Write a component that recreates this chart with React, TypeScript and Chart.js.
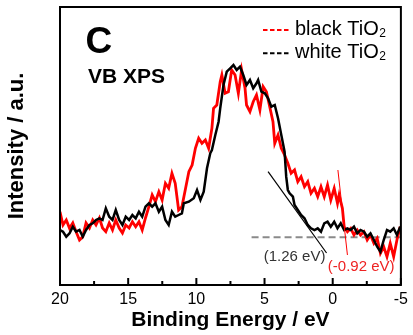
import React, { useEffect, useRef } from "react";
import { Chart, registerables } from "chart.js";

Chart.register(...registerables);

// ---- data (binding energy in eV, intensity in a.u.) ----
const blackTiO2E = [20.0, 19.78, 19.54, 19.30, 19.06, 18.82, 18.57, 18.33, 18.09, 17.84, 17.60, 17.36, 17.11, 16.88, 16.64, 16.39, 16.15, 15.91, 15.66, 15.42, 15.18, 14.93, 14.69, 14.45, 14.21, 13.97, 13.73, 13.48, 13.24, 13.00, 12.75, 12.51, 12.27, 12.03, 11.79, 11.55, 11.30, 11.06, 10.79, 10.55, 10.31, 10.07, 9.83, 9.59, 9.34, 9.10, 8.86, 8.74, 8.50, 8.25, 8.13, 7.89, 7.65, 7.41, 7.16, 6.92, 6.68, 6.43, 6.32, 6.07, 5.83, 5.59, 5.34, 5.10, 4.86, 4.62, 4.38, 4.25, 4.01, 3.77, 3.53, 3.29, 3.05, 2.80, 2.56, 2.32, 2.07, 1.83, 1.59, 1.34, 1.10, 0.86, 0.62, 0.38, 0.14, -0.11, -0.35, -0.47, -0.71, -0.84, -1.08, -1.32, -1.56, -1.80, -2.04, -2.29, -2.53, -2.77, -3.02, -3.26, -3.50, -3.74, -3.98, -4.22, -4.47, -4.71, -4.95];
const blackTiO2I = [73.3, 60, 65, 56.7, 62, 53.3, 45, 48.3, 62, 57, 65, 60, 67, 57, 53.3, 62, 55, 65, 57, 52, 60, 57, 63.3, 58.3, 63.3, 55, 67, 78.3, 90, 83.3, 93.3, 85, 101.7, 96.7, 111.7, 101.7, 75, 78.3, 96.7, 113.3, 120, 136.7, 146.7, 141.7, 145, 136.7, 156.7, 176.7, 180, 203.3, 210, 191.7, 193.3, 215, 210, 191.7, 215, 196.7, 180, 173.3, 183.3, 190, 175, 198.3, 193.3, 178.3, 163.3, 141.7, 150, 136.7, 130, 121.7, 111.7, 115, 103.3, 108.3, 98.3, 103.3, 91.7, 96.7, 88.3, 98.3, 88.3, 100, 85, 96.7, 81.7, 90, 76.7, 58.3, 53.3, 56.7, 50, 55, 50, 53.3, 45, 50, 41.7, 46.7, 31.7, 38.3, 28.3, 41.7, 28.3, 45, 58.3];

const whiteTiO2E = [20.0, 19.78, 19.54, 19.30, 19.06, 18.82, 18.57, 18.33, 18.09, 17.84, 17.60, 17.36, 17.11, 16.88, 16.64, 16.39, 16.15, 15.91, 15.66, 15.42, 15.18, 14.93, 14.69, 14.45, 14.21, 13.97, 13.73, 13.48, 13.24, 13.00, 12.75, 12.51, 12.27, 12.03, 11.79, 11.55, 11.30, 11.06, 10.92, 10.55, 10.19, 9.95, 9.70, 9.46, 9.22, 8.98, 8.86, 8.61, 8.37, 8.25, 8.01, 7.77, 7.52, 7.28, 7.04, 6.80, 6.56, 6.32, 6.07, 5.83, 5.59, 5.47, 5.23, 4.98, 4.74, 4.50, 4.25, 4.01, 3.77, 3.53, 3.41, 3.29, 3.16, 2.92, 2.80, 2.56, 2.32, 2.07, 1.83, 1.59, 1.34, 1.10, 0.86, 0.62, 0.38, 0.14, -0.11, -0.35, -0.59, -0.84, -1.08, -1.32, -1.56, -1.80, -2.04, -2.29, -2.53, -2.77, -3.02, -3.26, -3.50, -3.74, -3.98, -4.22, -4.47, -4.71, -4.95];
const whiteTiO2I = [55, 53.3, 48.3, 51.7, 58.3, 53.3, 55, 48.3, 55, 60, 61.7, 65, 66.7, 65, 76.7, 68.3, 65, 75, 65, 60, 68.3, 65, 70, 66.7, 73.3, 68.3, 78.3, 81.7, 78.3, 81.7, 73.3, 78.3, 65, 60, 73.3, 68.3, 70, 71.7, 81.7, 83.3, 86.7, 95, 85, 93.3, 116.7, 131.7, 135, 150, 163.3, 176.7, 200, 213.3, 216.7, 220, 215, 218.3, 210, 200, 205, 196.7, 201.7, 205, 193.3, 191.7, 186.7, 178.3, 180, 166.7, 150, 133.3, 108.3, 95, 91.7, 88.3, 80, 75, 70, 66.7, 60, 56.7, 55, 56.7, 53.3, 61.7, 63.3, 58.3, 63.3, 56.7, 61.7, 55, 56.7, 55, 58.3, 51.7, 55, 53.3, 48.3, 51.7, 45, 38.3, 33.3, 45, 55, 53.3, 56.7, 50, 58.3];

// tangent / baseline construction lines
const whiteTangentE = [4.74, 0.45];
const whiteTangentI = [113.3, 32];
const blackTangentE = [-0.38, -1.08];
const blackTangentI = [115, 30];
const baselineE = [5.95, -5];
const baselineI = [47.7, 47.7];

// ticks
const xMajorTicks = [20, 15, 10, 5, 0, -5];
const xMinorTicks = [17.5, 12.5, 7.5, 2.5, -2.5];

// texts
const legendBase = ["black TiO", "white TiO"];
const legendSub = ["2", "2"];
const legendColors = ["#ff0000", "#000000"];
const panelLetter = "C";
const panelSubtitle = "VB XPS";
const annotationTexts = ["(1.26 eV)", "(-0.92 eV)"];
const annotationE = [2.80, -2.09];
const annotationI = [28.3, 18.3];
const annotationColors = ["#333333", "#ee2222"];

const FONT = "'Liberation Sans', Arial, Helvetica, sans-serif";

const pts = (xs: number[], ys: number[]) => xs.map((x, i) => ({ x, y: ys[i] }));

const decorPlugin = {
  id: "decor",
  afterDraw(chart: any) {
    const { ctx, chartArea: a, scales } = chart;
    const xs = scales.x;
    const ys = scales.y;
    ctx.save();
    // frame
    ctx.strokeStyle = "#000";
    ctx.lineWidth = 2;
    ctx.setLineDash([]);
    ctx.strokeRect(a.left, a.top, a.right - a.left, a.bottom - a.top);
    // inward ticks
    xMajorTicks.forEach((v) => {
      const px = xs.getPixelForValue(v);
      ctx.beginPath();
      ctx.moveTo(px, a.bottom);
      ctx.lineTo(px, a.bottom - 7);
      ctx.stroke();
    });
    xMinorTicks.forEach((v) => {
      const px = xs.getPixelForValue(v);
      ctx.beginPath();
      ctx.moveTo(px, a.bottom);
      ctx.lineTo(px, a.bottom - 4);
      ctx.stroke();
    });
    // panel letter and subtitle
    ctx.fillStyle = "#000";
    ctx.textBaseline = "alphabetic";
    ctx.textAlign = "left";
    ctx.font = `bold 37px ${FONT}`;
    ctx.fillText(panelLetter, 85.5, 53);
    ctx.font = `bold 21px ${FONT}`;
    ctx.fillText(panelSubtitle, 88, 83.3);
    // legend
    legendBase.forEach((t, i) => {
      const ly = 30 + i * 23.3;
      ctx.strokeStyle = legendColors[i];
      ctx.lineWidth = 2;
      ctx.setLineDash([4.5, 2.5]);
      ctx.beginPath();
      ctx.moveTo(263, ly);
      ctx.lineTo(289, ly);
      ctx.stroke();
      ctx.setLineDash([]);
      ctx.fillStyle = "#000";
      ctx.font = `20px ${FONT}`;
      ctx.fillText(t, 295, ly + 4.5);
      const w = ctx.measureText(t).width;
      ctx.font = `12px ${FONT}`;
      ctx.fillText(legendSub[i], 295 + w + 0.5, ly + 6.5);
    });
    // annotations
    ctx.textAlign = "center";
    ctx.textBaseline = "middle";
    ctx.font = `15px ${FONT}`;
    annotationTexts.forEach((t, i) => {
      ctx.fillStyle = annotationColors[i];
      ctx.fillText(t, xs.getPixelForValue(annotationE[i]), ys.getPixelForValue(annotationI[i]));
    });
    ctx.restore();
  },
};

export default function App() {
  const ref = useRef<HTMLCanvasElement | null>(null);
  useEffect(() => {
    if (!ref.current) return;
    Chart.defaults.font.family = FONT;
    const chart = new Chart(ref.current, {
      type: "line",
      data: {
        datasets: [
          {
            label: "baseline",
            data: pts(baselineE, baselineI),
            borderColor: "#8a8a8a",
            borderWidth: 2,
            borderDash: [7, 4],
            pointRadius: 0,
            order: 5,
          },
          {
            label: legendBase[0] + legendSub[0],
            data: pts(blackTiO2E, blackTiO2I),
            borderColor: "#ff0000",
            borderWidth: 2.8,
            pointRadius: 0,
            tension: 0,
            order: 3,
          },
          {
            label: legendBase[1] + legendSub[1],
            data: pts(whiteTiO2E, whiteTiO2I),
            borderColor: "#000000",
            borderWidth: 2.5,
            pointRadius: 0,
            tension: 0,
            order: 2,
          },
          {
            label: "white tangent",
            data: pts(whiteTangentE, whiteTangentI),
            borderColor: "#000000",
            borderWidth: 1.2,
            pointRadius: 0,
            order: 1,
          },
          {
            label: "black tangent",
            data: pts(blackTangentE, blackTangentI),
            borderColor: "#ff0000",
            borderWidth: 1,
            pointRadius: 0,
            order: 1,
          },
        ],
      },
      options: {
        responsive: false,
        animation: false,
        devicePixelRatio: 1,
        layout: { padding: { left: 0, right: 9, top: 7, bottom: 0 } },
        plugins: { legend: { display: false }, tooltip: { enabled: false } },
        scales: {
          x: {
            type: "linear",
            reverse: true,
            min: -5,
            max: 20,
            afterBuildTicks: (s: any) => {
              s.ticks = xMajorTicks.map((v) => ({ value: v }));
            },
            afterFit: (s: any) => {
              s.height = 50;
            },
            grid: { display: false, drawTicks: false },
            border: { display: false },
            ticks: {
              color: "#000",
              font: { size: 16 },
              padding: 5,
              maxRotation: 0,
              autoSkip: false,
            },
            title: {
              display: true,
              text: "Binding Energy / eV",
              color: "#000",
              font: { size: 21, weight: "bold" },
              padding: { top: 0, bottom: 2 },
            },
          },
          y: {
            type: "linear",
            min: 0,
            max: 278,
            afterFit: (s: any) => {
              s.width = 60;
            },
            grid: { display: false, drawTicks: false },
            border: { display: false },
            ticks: { display: false },
            title: {
              display: true,
              text: "Intensity / a.u.",
              color: "#000",
              font: { size: 22, weight: "bold" },
              padding: { top: 4, bottom: 0 },
            },
          },
        },
      },
      plugins: [decorPlugin],
    });
    return () => chart.destroy();
  }, []);
  return (
    <div style={{ position: "absolute", left: 0, top: 0, width: 413, height: 335, background: "#fff" }}>
      <canvas ref={ref} width={413} height={335} style={{ display: "block" }} />
    </div>
  );
}
